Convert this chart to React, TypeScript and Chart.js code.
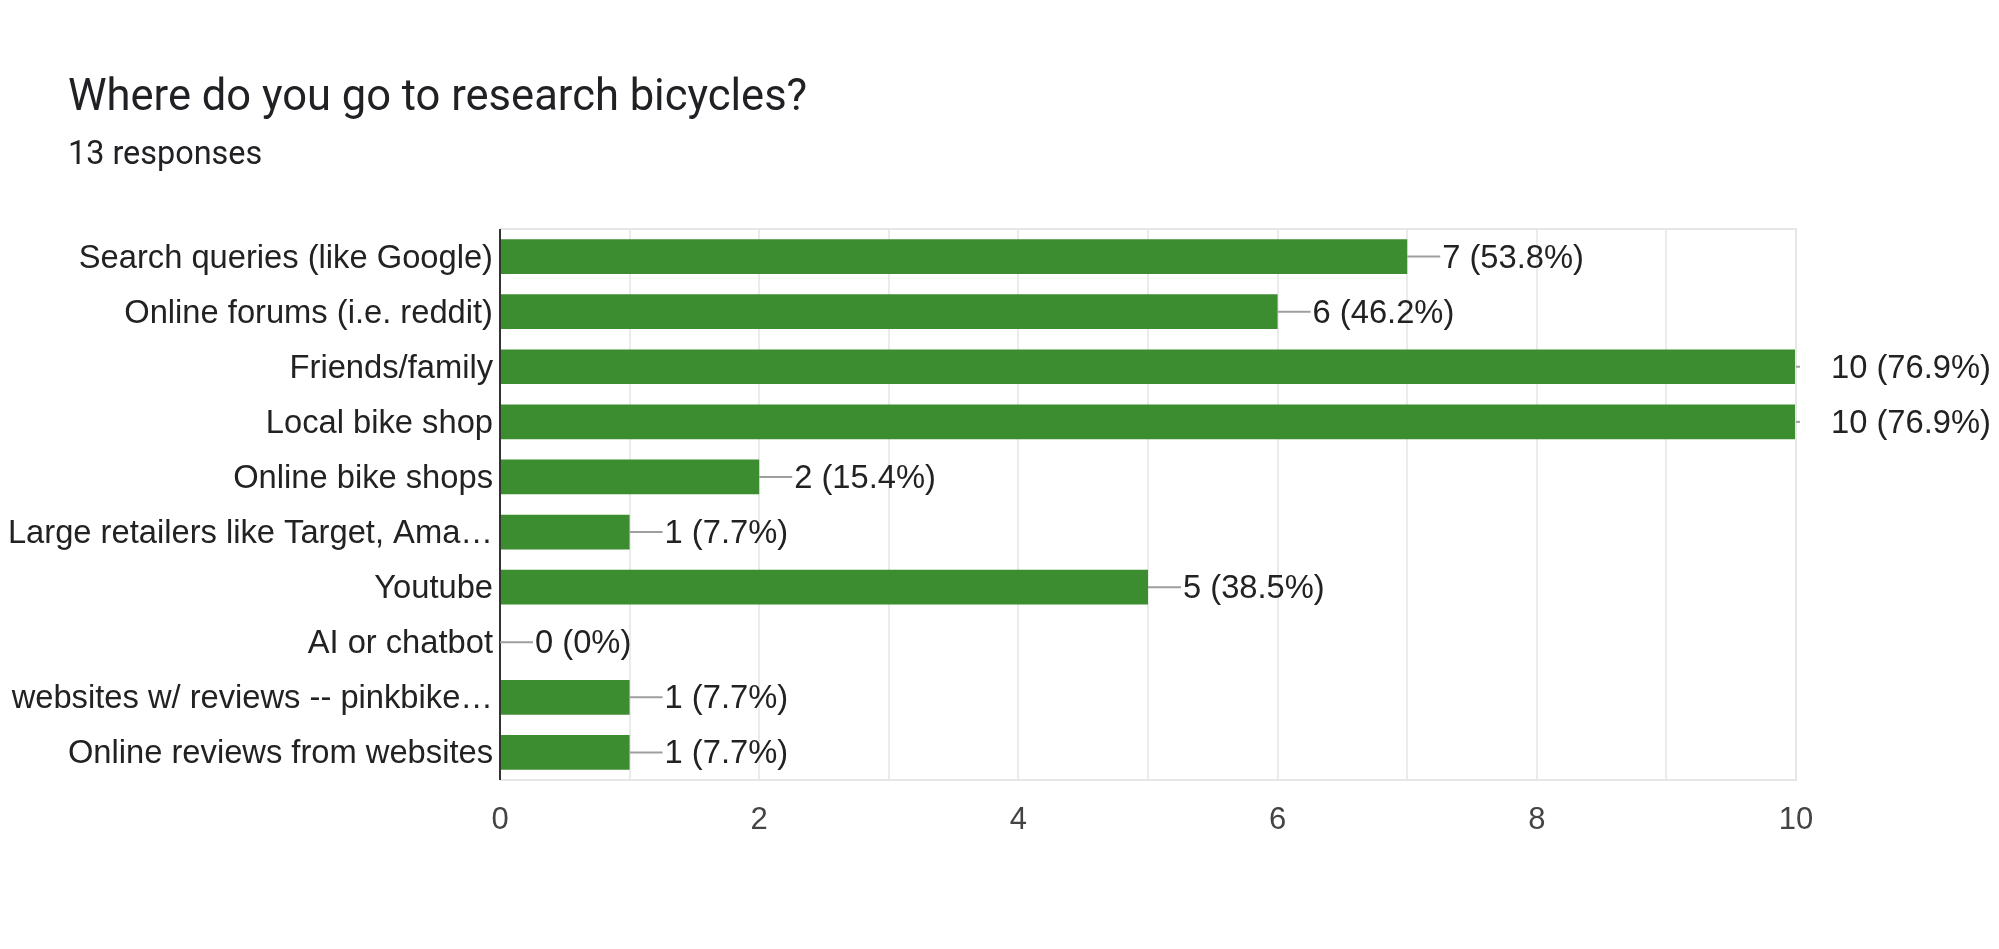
import React, { useEffect, useRef } from "react";
import { Chart, registerables } from "chart.js";

Chart.register(...registerables);

const TITLE = "Where do you go to research bicycles?";
const SUBTITLE = "13 responses";
const categories = [
  "Search queries (like Google)",
  "Online forums (i.e. reddit)",
  "Friends/family",
  "Local bike shop",
  "Online bike shops",
  "Large retailers like Target, Ama…",
  "Youtube",
  "AI or chatbot",
  "websites w/ reviews -- pinkbike…",
  "Online reviews from websites",
];
const counts = [7, 6, 10, 10, 2, 1, 5, 0, 1, 1];
const percents = ["53.8%", "46.2%", "76.9%", "76.9%", "15.4%", "7.7%", "38.5%", "0%", "7.7%", "7.7%"];
const xMax = 10;

const W = 1999;
const H = 949;
const PLOT_LEFT = 500;
const PLOT_RIGHT = 1796;
const PLOT_TOP = 229;
const PLOT_BOTTOM = 780;
const FONT = "'Liberation Sans', Arial, sans-serif";

const annot = {
  id: "annot",
  afterDatasetsDraw(chart: any) {
    const ctx = chart.ctx;
    const area = chart.chartArea;
    const meta = chart.getDatasetMeta(0);
    ctx.save();
    ctx.strokeStyle = "#e6e6e6";
    ctx.lineWidth = 2;
    ctx.beginPath();
    ctx.moveTo(area.left, area.top);
    ctx.lineTo(area.right, area.top);
    ctx.lineTo(area.right, area.bottom);
    ctx.lineTo(area.left, area.bottom);
    ctx.stroke();
    ctx.strokeStyle = "#333333";
    ctx.lineWidth = 2;
    ctx.beginPath();
    ctx.moveTo(area.left, area.top);
    ctx.lineTo(area.left, area.bottom);
    ctx.stroke();
    ctx.font = `32.7px ${FONT}`;
    ctx.textBaseline = "middle";
    ctx.textAlign = "left";
    meta.data.forEach((el: any, i: number) => {
      const v = counts[i];
      const xEnd = el.x;
      const y = el.y;
      const stemEnd = Math.min(xEnd + 33, area.right + 4);
      ctx.strokeStyle = "#9e9e9e";
      ctx.lineWidth = 2;
      ctx.beginPath();
      ctx.moveTo(xEnd, y);
      ctx.lineTo(stemEnd, y);
      ctx.stroke();
      ctx.fillStyle = "#222222";
      ctx.fillText(`${v} (${percents[i]})`, xEnd + 35, y + 2);
    });
    ctx.restore();
  },
};

export default function App() {
  const ref = useRef<HTMLCanvasElement | null>(null);
  useEffect(() => {
    document.body.style.margin = "0";
    const chart = new Chart(ref.current!, {
      type: "bar",
      data: {
        labels: categories,
        datasets: [
          {
            data: counts,
            backgroundColor: "#3c8d2f",
            borderWidth: 0,
            barPercentage: 0.63,
            categoryPercentage: 1,
          },
        ],
      },
      options: {
        indexAxis: "y",
        responsive: false,
        animation: false,
        layout: { padding: { left: 0, top: PLOT_TOP, right: W - PLOT_RIGHT, bottom: 0 } },
        plugins: { legend: { display: false }, tooltip: { enabled: false }, title: { display: false } },
        scales: {
          x: {
            min: 0,
            max: xMax,
            afterFit: (s: any) => {
              s.height = H - PLOT_BOTTOM;
            },
            ticks: {
              stepSize: 1,
              autoSkip: false,
              maxRotation: 0,
              padding: 22,
              color: "#444444",
              font: { family: FONT, size: 31 },
              callback: (v: any) => (Number(v) % 2 === 0 ? String(v) : ""),
            },
            grid: { color: "#ebebeb", lineWidth: 2, drawTicks: false },
            border: { display: false },
          },
          y: {
            afterFit: (s: any) => {
              s.width = PLOT_LEFT;
            },
            ticks: {
              autoSkip: false,
              padding: 7,
              labelOffset: 2,
              color: "#222222",
              font: { family: FONT, size: 32.7 },
            },
            grid: { display: false, drawTicks: false },
            border: { display: false },
          },
        },
      },
      plugins: [annot],
    } as any);
    return () => chart.destroy();
  }, []);
  return (
    <div style={{ position: "fixed", left: 0, top: 0, width: W, height: H, background: "#fff" }}>
      <div
        style={{
          position: "absolute",
          left: 68,
          top: 71,
          fontFamily: "Roboto, sans-serif",
          fontSize: 43.5,
          lineHeight: "50px",
          color: "#202124",
          whiteSpace: "nowrap",
        }}
      >
        {TITLE}
      </div>
      <div
        style={{
          position: "absolute",
          left: 68,
          top: 135,
          fontFamily: "Roboto, sans-serif",
          fontSize: 32.4,
          lineHeight: "36px",
          color: "#202124",
          whiteSpace: "nowrap",
        }}
      >
        {SUBTITLE}
      </div>
      <canvas ref={ref} width={W} height={H} style={{ display: "block" }} />
    </div>
  );
}
